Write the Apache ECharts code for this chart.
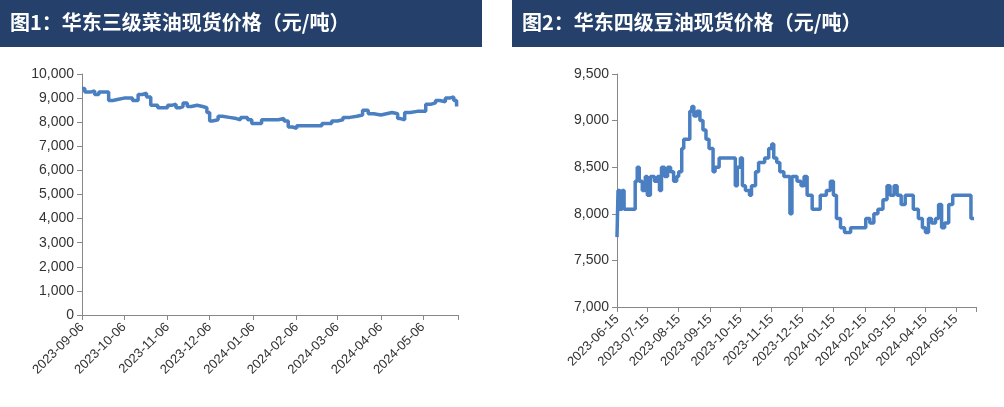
<!DOCTYPE html>
<html><head><meta charset="utf-8">
<script src="https://cdn.jsdelivr.net/npm/echarts@6/dist/echarts.min.js"></script>
<style>html,body{margin:0;padding:0;background:#fff}#c{width:1004px;height:407px}</style>
</head><body><div id="c"></div>
<script>
const title1 = '图1：华东三级菜油现货价格（元/吨）';
const title2 = '图2：华东四级豆油现货价格（元/吨）';
const ticks1 = ['2023-09-06','2023-10-06','2023-11-06','2023-12-06','2024-01-06','2024-02-06','2024-03-06','2024-04-06','2024-05-06'];
const ticks2 = ['2023-06-15','2023-07-15','2023-08-15','2023-09-15','2023-10-15','2023-11-15','2023-12-15','2024-01-15','2024-02-15','2024-03-15','2024-04-15','2024-05-15'];
const dates1 = ['2023-09-06','2023-09-08','2023-09-12','2023-09-15','2023-09-18','2023-09-22','2023-09-25','2023-09-28','2023-10-02','2023-10-06','2023-10-10','2023-10-12','2023-10-16','2023-10-19','2023-10-22','2023-10-25','2023-10-30','2023-11-03','2023-11-06','2023-11-09','2023-11-12','2023-11-15','2023-11-17','2023-11-20','2023-11-23','2023-11-27','2023-12-01','2023-12-04','2023-12-06','2023-12-08','2023-12-12','2023-12-15','2023-12-20','2023-12-25','2023-12-28','2024-01-02','2024-01-05','2024-01-08','2024-01-12','2024-01-18','2024-01-24','2024-01-28','2024-01-31','2024-02-03','2024-02-06','2024-02-14','2024-02-20','2024-02-24','2024-02-28','2024-03-02','2024-03-06','2024-03-10','2024-03-15','2024-03-20','2024-03-24','2024-03-28','2024-04-01','2024-04-06','2024-04-10','2024-04-14','2024-04-18','2024-04-20','2024-04-23','2024-04-27','2024-05-02','2024-05-06','2024-05-08','2024-05-12','2024-05-15','2024-05-18','2024-05-22','2024-05-25','2024-05-28','2024-05-30'];
const values1 = [9400,9250,9300,9150,9250,9250,8900,8950,9000,9000,9000,8900,9150,9200,9050,8700,8600,8600,8700,8750,8600,8650,8800,8650,8700,8650,8600,8400,8050,8100,8250,8200,8150,8100,8200,8100,7950,7950,8100,8100,8150,8050,7800,7750,7850,7850,7850,7950,7950,8050,8100,8200,8250,8300,8500,8350,8300,8350,8400,8350,8150,8100,8400,8450,8450,8450,8750,8800,8900,8850,9000,9050,8900,8650];
const dates2 = ['2023-06-15','2023-06-16','2023-06-18','2023-06-20','2023-06-22','2023-06-30','2023-07-03','2023-07-05','2023-07-07','2023-07-10','2023-07-13','2023-07-15','2023-07-18','2023-07-22','2023-07-25','2023-07-27','2023-07-29','2023-08-01','2023-08-04','2023-08-07','2023-08-10','2023-08-13','2023-08-15','2023-08-18','2023-08-20','2023-08-24','2023-08-26','2023-08-28','2023-08-30','2023-09-02','2023-09-05','2023-09-08','2023-09-11','2023-09-14','2023-09-18','2023-09-20','2023-09-24','2023-10-01','2023-10-08','2023-10-10','2023-10-12','2023-10-15','2023-10-17','2023-10-20','2023-10-24','2023-10-26','2023-10-30','2023-11-02','2023-11-05','2023-11-08','2023-11-12','2023-11-15','2023-11-17','2023-11-20','2023-11-23','2023-11-27','2023-12-01','2023-12-03','2023-12-05','2023-12-10','2023-12-14','2023-12-17','2023-12-20','2023-12-25','2023-12-29','2024-01-02','2024-01-08','2024-01-12','2024-01-15','2024-01-18','2024-01-22','2024-01-26','2024-02-01','2024-02-14','2024-02-16','2024-02-20','2024-02-24','2024-02-28','2024-03-04','2024-03-08','2024-03-11','2024-03-15','2024-03-18','2024-03-22','2024-03-26','2024-03-31','2024-04-03','2024-04-08','2024-04-12','2024-04-15','2024-04-18','2024-04-21','2024-04-25','2024-04-28','2024-05-01','2024-05-04','2024-05-08','2024-05-12','2024-05-15','2024-05-22','2024-05-26','2024-05-30','2024-06-02'];
const values2 = [7750,8250,8050,8250,8050,8050,8350,8500,8350,8250,8400,8200,8400,8350,8400,8250,8500,8400,8500,8450,8350,8400,8450,8700,8800,8800,9100,9150,9050,9100,9000,8900,8800,8700,8450,8500,8600,8600,8600,8300,8500,8600,8300,8250,8200,8300,8450,8550,8550,8600,8700,8750,8600,8550,8450,8400,8400,8000,8400,8350,8300,8400,8200,8050,8050,8200,8250,8350,8200,7950,7850,7800,7850,7850,7950,7900,8000,8050,8150,8300,8200,8300,8200,8100,8200,8200,8050,7950,7850,7800,7950,7900,7950,8100,7850,7900,8100,8200,8200,8200,8200,7950,7950];

const t = s => Date.UTC(+s.slice(0,4), +s.slice(5,7)-1, +s.slice(8,10));
const fmt = v => { const d = new Date(v); const p = n => String(n).padStart(2,'0'); return d.getUTCFullYear()+'-'+p(d.getUTCMonth()+1)+'-'+p(d.getUTCDate()); };
const lab = {fontFamily:'Liberation Sans, Arial', color:'#333', fontSize:14};
function xAxis(idx, ticks, min, max){
  return {type:'value', gridIndex:idx, min:t(min), max:t(max), scale:true,
    axisLine:{lineStyle:{color:'#888'}},
    axisTick:{customValues:ticks.map(t).concat([t(max)]), length:5, lineStyle:{color:'#888'}},
    axisLabel:{customValues:ticks.map(t), rotate:45, formatter:v=>fmt(v), fontFamily:'Liberation Sans, Arial', color:'#333', fontSize:13, margin:10},
    splitLine:{show:false}};
}
function yAxis(idx, min, max, interval){
  return {type:'value', gridIndex:idx, min, max, interval,
    axisLine:{show:true, lineStyle:{color:'#888'}},
    axisTick:{show:true, length:5, lineStyle:{color:'#888'}},
    axisLabel:Object.assign({formatter:v=>v.toLocaleString('en-US'), margin:8}, lab),
    splitLine:{show:false}};
}
const chart = echarts.init(document.getElementById('c'));
chart.setOption({
  animation:false,
  graphic:[
    {type:'rect', shape:{x:0,y:0,width:482,height:47}, style:{fill:'#25406b'}},
    {type:'rect', shape:{x:512,y:0,width:492,height:47}, style:{fill:'#25406b'}},
    {type:'text', x:10, y:12, style:{text:title1, fill:'#fff', font:'bold 20px "Noto Sans CJK SC"'}},
    {type:'text', x:522, y:12, style:{text:title2, fill:'#fff', font:'bold 20px "Noto Sans CJK SC"'}}
  ],
  grid:[{left:82, top:74, width:376, height:241},{left:617, top:74, width:359, height:233}],
  xAxis:[xAxis(0,ticks1,'2023-09-06','2024-05-31'), xAxis(1,ticks2,'2023-06-15','2024-06-04')],
  yAxis:[yAxis(0,0,10000,1000), yAxis(1,7000,9500,500)],
  series:[
    {type:'line', xAxisIndex:0, yAxisIndex:0, data:dates1.map((d,i)=>[t(d),values1[i]]), step:'end', showSymbol:false, lineStyle:{color:'#4a7fc1', width:3.5}},
    {type:'line', xAxisIndex:1, yAxisIndex:1, data:dates2.map((d,i)=>[t(d),values2[i]]), step:'end', showSymbol:false, lineStyle:{color:'#4a7fc1', width:3.5}}
  ]
});
</script></body></html>
